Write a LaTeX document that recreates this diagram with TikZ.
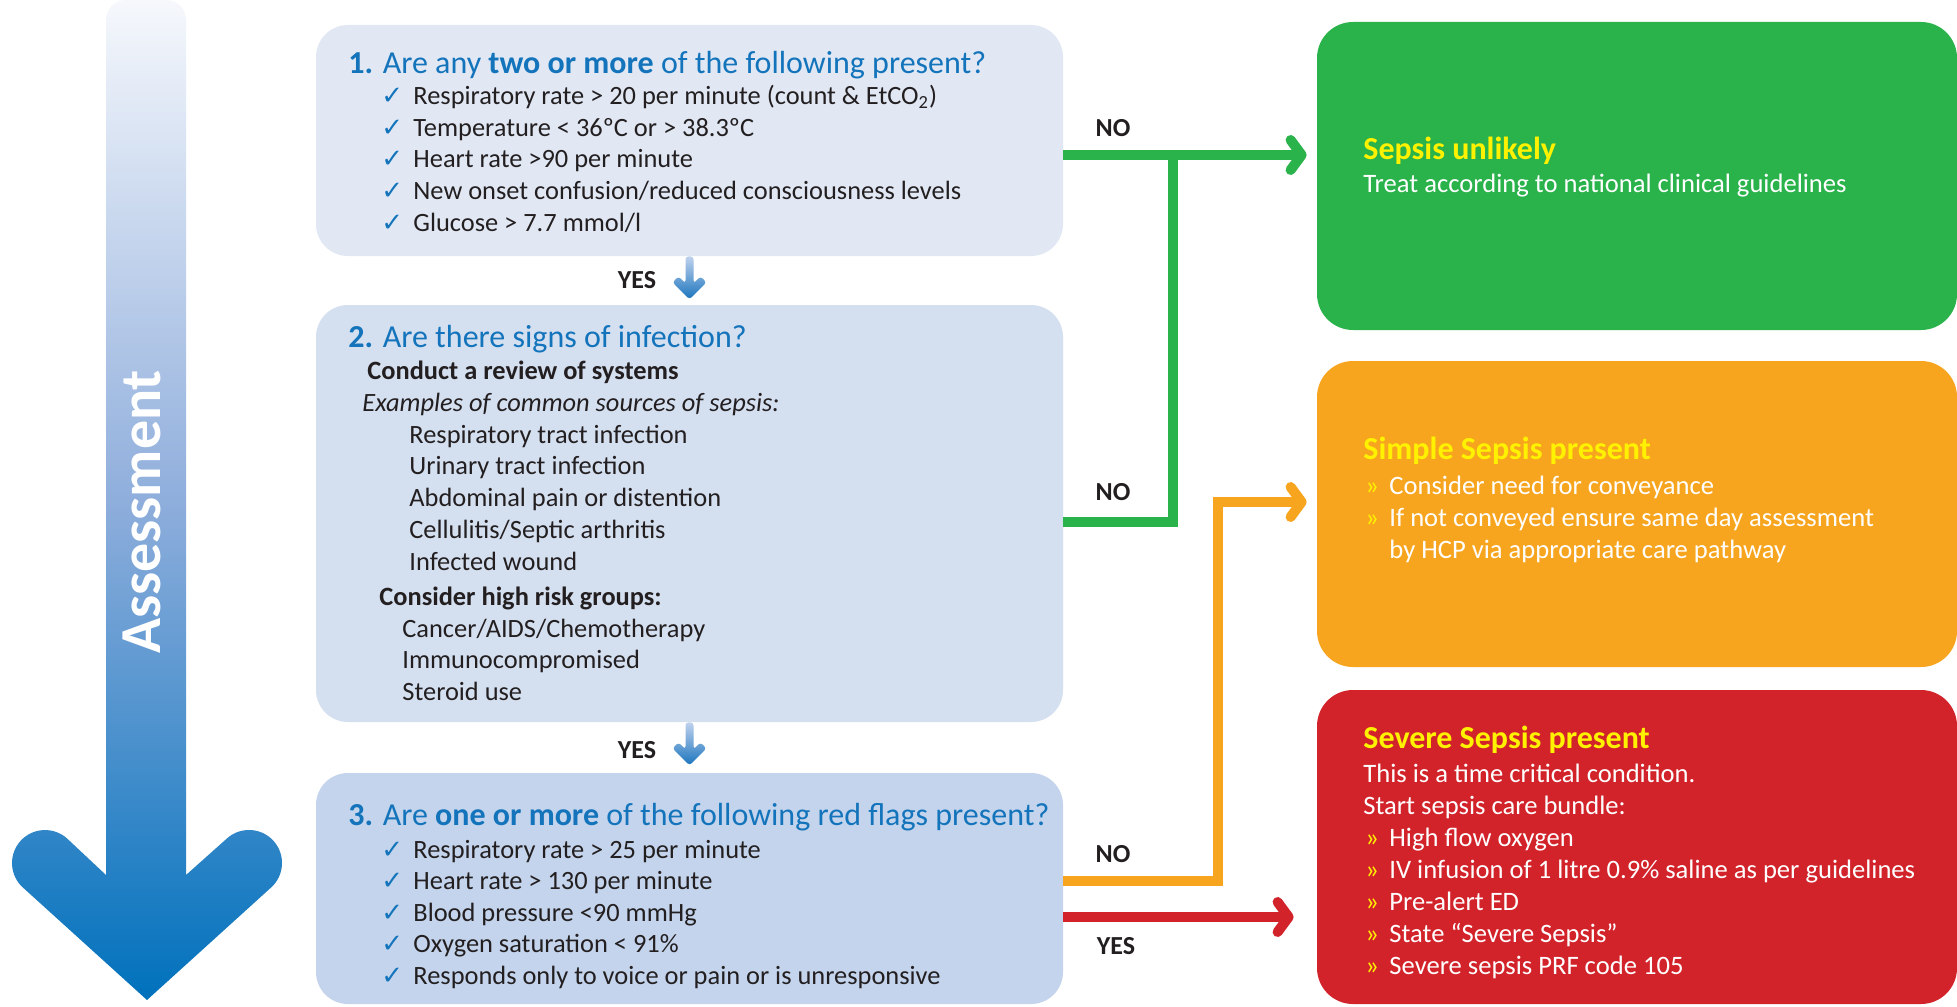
\documentclass[tikz,border=0pt]{standalone}
\usepackage{fontspec}
\setmainfont{Carlito}
\newfontfamily\symfont{DejaVu Sans}
\usepackage{tikz}
\usetikzlibrary{shapes,arrows.meta,positioning,calc}
\usepackage{xcolor}

\definecolor{qfillA}{HTML}{E1E8F4}
\definecolor{qfillB}{HTML}{D4DFF0}
\definecolor{qfillC}{HTML}{C3D4EC}
\definecolor{tblue}{HTML}{1474BB}
\definecolor{ink}{HTML}{231F20}
\definecolor{cgreen}{HTML}{2AB24B}
\definecolor{corange}{HTML}{F7A51E}
\definecolor{cred}{HTML}{D2232A}
\definecolor{cyellow}{HTML}{FFF200}
\definecolor{arrtop}{HTML}{F6F8FC}
\definecolor{arrmid}{HTML}{8FAEDC}
\definecolor{arrbot}{HTML}{0071BC}
\definecolor{yestop}{HTML}{BFD2EE}
\definecolor{yesbot}{HTML}{1A74BD}

\newcommand{\topstrut}{\rule{0pt}{11pt}}
\newcommand{\chk}{\makebox[16pt][l]{\symfont\fontsize{13}{13}\selectfont\color{tblue}✓}}
\newcommand{\bul}{\hspace*{1pt}\makebox[12pt][l]{\color{cyellow}»}}

\begin{document}
\begin{tikzpicture}[x=0.5pt, y=-0.5pt,
    qbox/.style={rounded corners=16pt, minimum width=373.5pt, inner sep=0pt},
    abox/.style={rounded corners=18pt, minimum width=320pt, inner sep=0pt},
    ttl/.style={font=\fontsize{16}{19}\selectfont, text=tblue, inner sep=0pt, anchor=base west},
    txt/.style={font=\fontsize{13.2}{15.85}\selectfont, text=ink, inner sep=0pt, align=left, anchor=north west},
    hdr/.style={font=\fontsize{16}{19}\selectfont\bfseries, text=cyellow, inner sep=0pt, anchor=base west},
    atxt/.style={font=\fontsize{13.3}{16}\selectfont, text=white, inner sep=0pt, align=left, anchor=north west},
    lbl/.style={font=\fontsize{13}{15}\selectfont\bfseries, text=ink, inner sep=0pt},
    link/.style={line width=5pt},
    tip/.style={-{Straight Barb[length=5.5pt, width=15pt, round]}},
    yesarrow/.style={top color=yestop, bottom color=yesbot, rounded corners=1.5pt}]

    \useasboundingbox (0,0) rectangle (1957,1006);
    \fill[white] (0,0) rectangle (1957,1006);

    % Assessment arrow
    \shade[top color=arrtop, bottom color=arrbot, middle color=arrmid]
        (106,875) -- (67.1,838.5) arc[start angle=48, end angle=228, radius=16.5pt]
        -- (147,1000) -- (271.1,887.5) arc[start angle=-48, end angle=132, radius=16.5pt]
        -- (186,875) -- (186,20) arc[start angle=0, end angle=90, radius=10pt]
        -- (126,0) arc[start angle=90, end angle=180, radius=10pt] -- cycle;
    \node[rotate=90, font=\fontsize{29}{30}\selectfont\bfseries, text=white, inner sep=0pt] (assess) at (142,512) {Assessment};

    % Question boxes
    \node[qbox, fill=qfillA, minimum height=115.5pt] (q1) at (689.5,140.5) {};
    \node[qbox, fill=qfillB, minimum height=208.5pt] (q2) at (689.5,513.5) {};
    \node[qbox, fill=qfillC, minimum height=115.5pt] (q3) at (689.5,888.5) {};

    % Outcome boxes
    \node[abox, fill=cgreen, minimum height=154pt] (r1) at (1637,176) {};
    \node[abox, fill=corange, minimum height=153pt] (r2) at (1637,514) {};
    \node[abox, fill=cred, minimum height=157pt] (r3) at (1637,847) {};

    % Question 1
    \node[ttl] (q1t) at (348,74) {\textbf{1.} Are any \textbf{two or more} of the following present?};
    \node[txt] (q1l) at (381,82) {\topstrut\chk Respiratory rate > 20 per minute (count \& EtCO\textsubscript{2})\\
        \chk Temperature < 36ºC or > 38.3ºC\\
        \chk Heart rate >90 per minute\\
        \chk New onset confusion/reduced consciousness levels\\
        \chk Glucose > 7.7 mmol/l};

    % Question 2
    \node[ttl] (q2t) at (348,347) {\textbf{2.} Are there signs of infection?};
    \node[txt, font=\fontsize{13.2}{15.9}\selectfont] (q2l) at (362,357) {\topstrut\hspace*{2.5pt}\textbf{Conduct a review of systems}\\
        \textit{Examples of common sources of sepsis:}\\
        \hspace*{23.5pt}Respiratory tract infection\\
        \hspace*{23.5pt}Urinary tract infection\\
        \hspace*{23.5pt}Abdominal pain or distention\\
        \hspace*{23.5pt}Cellulitis/Septic arthritis\\
        \hspace*{23.5pt}Infected wound\\[1.6pt]
        \hspace*{8.5pt}\textbf{Consider high risk groups:}\\
        \hspace*{20pt}Cancer/AIDS/Chemotherapy\\
        \hspace*{20pt}Immunocompromised\\
        \hspace*{20pt}Steroid use};

    % Question 3
    \node[ttl] (q3t) at (348,825) {\textbf{3.} Are \textbf{one or more} of the following red flags present?};
    \node[txt, font=\fontsize{13.2}{15.75}\selectfont] (q3l) at (381,836) {\topstrut\chk Respiratory rate > 25 per minute\\
        \chk Heart rate > 130 per minute\\
        \chk Blood pressure <90 mmHg\\
        \chk Oxygen saturation < 91\%\\
        \chk Responds only to voice or pain or is unresponsive};

    % Outcome texts
    \node[hdr] (r1t) at (1363,159) {Sepsis unlikely};
    \node[atxt, anchor=base west] (r1l) at (1363,192) {Treat according to national clinical guidelines};
    \node[hdr] (r2t) at (1363,459) {Simple Sepsis present};
    \node[atxt] (r2l) at (1363,472) {\topstrut\bul Consider need for conveyance\\
        \bul If not conveyed ensure same day assessment\\
        \hspace*{13pt}by HCP via appropriate care pathway};
    \node[hdr] (r3t) at (1363,748) {Severe Sepsis present};
    \node[atxt] (r3l) at (1363,760) {\topstrut This is a time critical condition.\\
        Start sepsis care bundle:\\
        \bul High flow oxygen\\
        \bul IV infusion of 1 litre 0.9\% saline as per guidelines\\
        \bul Pre-alert ED\\
        \bul State “Severe Sepsis”\\
        \bul Severe sepsis PRF code 105};

    % YES arrows
    \begin{scope}[shift={(q1.south)}]
        \shade[yesarrow] (-4,0) -- (4,0) -- (4,27) -- (11,20) -- (17,26) -- (0,43) -- (-17,26) -- (-11,20) -- (-4,27) -- cycle;
    \end{scope}
    \begin{scope}[shift={(q2.south)}]
        \shade[yesarrow] (-4,0) -- (4,0) -- (4,27) -- (11,20) -- (17,26) -- (0,43) -- (-17,26) -- (-11,20) -- (-4,27) -- cycle;
    \end{scope}
    \node[lbl] (yes1) at (637,280) {YES};
    \node[lbl] (yes2) at (637,750) {YES};

    % Bend points
    \coordinate (gj) at (1173,155);
    \coordinate (gb) at (1173,522);
    \coordinate (ob) at (1218,881);
    \coordinate (ot) at (1218,502);
    \coordinate (ry) at (1063,917);

    % NO / YES connectors
    \draw[link, tip, cgreen, shorten >=5pt] (q1.east |- gj) -- (r1.west |- gj);
    \draw[link, cgreen] (q2.east |- gb) -- (gb) -- (gj);
    \draw[link, tip, corange, shorten >=5pt] (q3.east |- ob) -- (ob) -- (ot) -- (r2.west |- ot);
    \draw[link, tip, cred, shorten >=11.5pt] (q3.east |- ry) -- (r3.west |- ry);

    \node[lbl] (no1) at (1113,128) {NO};
    \node[lbl] (no2) at (1113,492) {NO};
    \node[lbl] (no3) at (1113,854) {NO};
    \node[lbl] (yes3) at (1116,946) {YES};
\end{tikzpicture}
\end{document}
